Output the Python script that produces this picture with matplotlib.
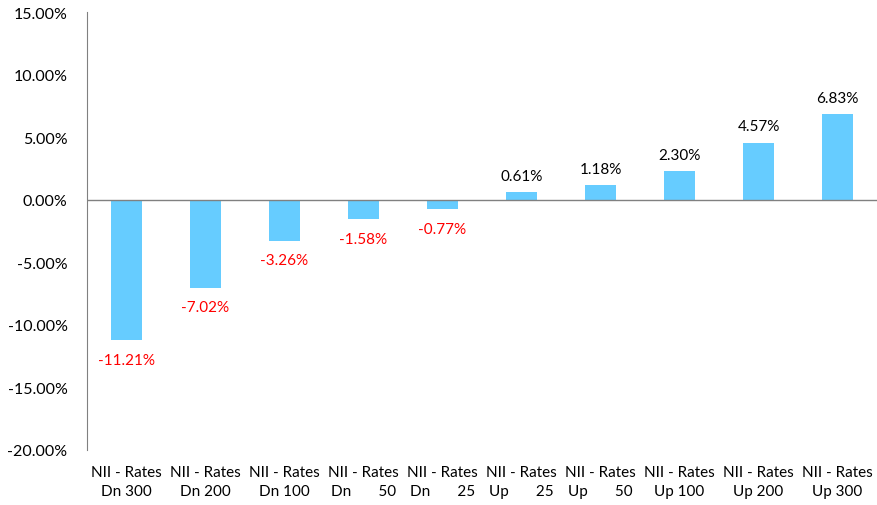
import matplotlib
matplotlib.use("Agg")
import matplotlib.pyplot as plt
from matplotlib.ticker import FuncFormatter

plt.rcParams['font.family'] = ['Lato', 'DejaVu Sans']

categories = ["NII - Rates\nDn 300", "NII - Rates\nDn 200", "NII - Rates\nDn 100",
              "NII - Rates\nDn       50", "NII - Rates\nDn       25",
              "NII - Rates\nUp       25", "NII - Rates\nUp       50",
              "NII - Rates\nUp 100", "NII - Rates\nUp 200", "NII - Rates\nUp 300"]
values = [-11.21, -7.02, -3.26, -1.58, -0.77, 0.61, 1.18, 2.30, 4.57, 6.83]
yticks = [-20, -15, -10, -5, 0, 5, 10, 15]

fig = plt.figure(figsize=(8.78, 5.06), dpi=100)
ax = fig.add_axes([87/878, (506-451)/506, 790/878, (451-13)/506])

x = list(range(len(values)))
ax.bar(x, values, width=0.4, color="#66CCFF", zorder=2)
ax.axhline(0, color="#808080", lw=1, zorder=3)

for xi, v in zip(x, values):
    if v >= 0:
        ax.text(xi, v + 0.75, f"{v:.2f}%", ha="center", va="bottom", fontsize=11, color="black")
    else:
        ax.text(xi, v - 1.0, f"{v:.2f}%", ha="center", va="top", fontsize=11, color="#FF0000")

ax.set_xlim(-0.5, len(values) - 0.5)
ax.set_ylim(-20, 15)
ax.set_yticks(yticks)
ax.yaxis.set_major_formatter(FuncFormatter(lambda v, p: f"{v:.2f}%"))
ax.set_xticks(x)
ax.set_xticklabels(categories, fontsize=11, linespacing=1.45)
ax.tick_params(axis='y', length=0, labelsize=11.5, pad=14)
ax.tick_params(axis='x', length=0, pad=11)
for s in ["top", "right", "bottom"]:
    ax.spines[s].set_visible(False)
ax.spines["left"].set_color("#808080")

fig.savefig("out.png", dpi=100)
